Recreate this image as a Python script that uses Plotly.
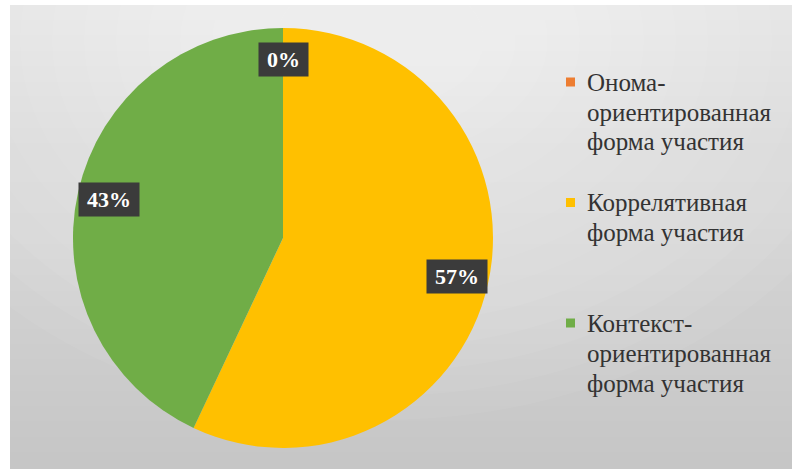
import math
import plotly.graph_objects as go

# ---- data ----
labels = [
    "Онома-ориентированная форма участия",
    "Коррелятивная форма участия",
    "Контекст-ориентированная форма участия",
]
legend_lines = [
    ["Онома-", "ориентированная", "форма участия"],
    ["Коррелятивная", "форма участия"],
    ["Контекст-", "ориентированная", "форма участия"],
]
values = [0, 57, 43]
colors = ["#ED7D31", "#FFC000", "#70AD47"]

SERIF = "'Liberation Serif', 'Times New Roman', 'DejaVu Serif', serif"

# ---- layout geometry (pixels) ----
W, H = 792, 469
ML, MT = 10, 5
PW, PH = W - ML, H - MT
CX, CY, R = 283, 238, 210


def px_x(x):
    return (x - ML) / PW


def px_y(y):
    return (H - y) / PH


fig = go.Figure()
fig.add_trace(go.Pie(
    labels=labels,
    values=values,
    marker=dict(colors=colors, line=dict(width=0)),
    sort=False,
    direction="clockwise",
    rotation=0,
    textinfo="none",
    hoverinfo="label+percent",
    showlegend=False,
    domain=dict(x=[px_x(CX - R), px_x(CX + R)], y=[px_y(CY + R), px_y(CY - R)]),
))

shapes = []
# background vertical gradient
n = 60
top_c, bot_c = 226, 198
for i in range(n):
    c = round(top_c + (bot_c - top_c) * i / (n - 1))
    shapes.append(dict(type="rect", xref="paper", yref="paper", layer="below",
                       x0=0, x1=1, y0=1 - (i + 1) / n, y1=1 - i / n + 0.002,
                       fillcolor=f"rgb({c},{c},{c})", line=dict(width=0)))
# radial light near top centre
k = 14
for i in range(k):
    rx = 520 - i * 32
    ry = 380 - i * 24
    cx0, cy0 = 380, 40
    shapes.append(dict(type="circle", xref="paper", yref="paper", layer="below",
                       x0=px_x(cx0 - rx), x1=px_x(cx0 + rx),
                       y0=px_y(cy0 + ry), y1=px_y(cy0 - ry),
                       fillcolor="rgba(255,255,255,0.05)", line=dict(width=0)))
# white outer margins
for (x0, x1, y0, y1) in [(-50, ML, H + 50, -50), (-50, W + 50, MT, -50),
                         (W, W + 50, H + 50, -50), (-50, W + 50, H + 50, H)]:
    shapes.append(dict(type="rect", xref="paper", yref="paper", layer="below",
                       x0=px_x(x0), x1=px_x(x1), y0=px_y(y0), y1=px_y(y1),
                       fillcolor="white", line=dict(width=0)))

annotations = []
# data labels
total = sum(values)
cum = 0.0
for v in values:
    frac = v / total
    mid = (cum + frac / 2) * 2 * math.pi
    cum += frac
    rr = 0.85 * R
    lx = CX + rr * math.sin(mid)
    ly = CY - rr * math.cos(mid)
    txt = f"{round(100 * frac)}%"
    ndig = len(txt) - 1
    annotations.append(dict(
        x=px_x(lx), y=px_y(ly), xref="paper", yref="paper",
        text=f"<b>{txt}</b>", showarrow=False,
        font=dict(family=SERIF, size=22, color="white"),
        bgcolor="#3b3b3b", width=16 + 11 * ndig + 22, height=33,
        xanchor="center", yanchor="middle", borderpad=0,
    ))

# legend (built from labels/colours)
LEG_X, LEG_Y0, SLOT, LINE = 585, 82, 120.5, 30
for i, lines in enumerate(legend_lines):
    y_first = LEG_Y0 + i * SLOT
    shapes.append(dict(type="rect", xref="paper", yref="paper",
                       x0=px_x(566), x1=px_x(575),
                       y0=px_y(y_first + 4.5), y1=px_y(y_first - 4.5),
                       fillcolor=colors[i], line=dict(width=0)))
    for j, ln in enumerate(lines):
        annotations.append(dict(
            x=px_x(LEG_X), y=px_y(y_first + j * LINE), xref="paper", yref="paper",
            text=ln, showarrow=False, xanchor="left", yanchor="middle",
            font=dict(family=SERIF, size=25, color="#333333"),
        ))

fig.update_layout(
    width=W, height=H,
    margin=dict(l=ML, r=0, t=MT, b=0),
    paper_bgcolor="white",
    plot_bgcolor="white",
    font=dict(family=SERIF),
    shapes=shapes,
    annotations=annotations,
    showlegend=False,
)

fig.write_html("out.html")
